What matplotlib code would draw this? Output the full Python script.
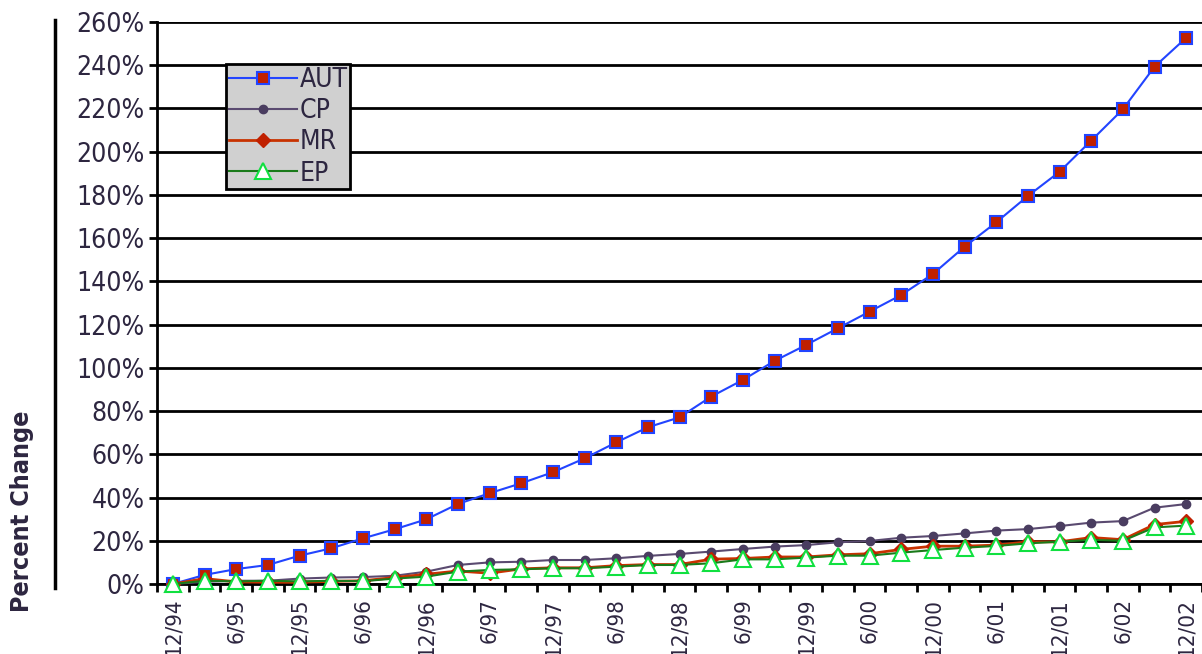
import numpy as np
import matplotlib
matplotlib.use('Agg')
import matplotlib.pyplot as plt
from matplotlib.lines import Line2D
from matplotlib.transforms import ScaledTranslation

# quarterly points 12/94 .. 12/02
quarters = ["12/94", "3/95", "6/95", "9/95", "12/95", "3/96", "6/96", "9/96",
            "12/96", "3/97", "6/97", "9/97", "12/97", "3/98", "6/98", "9/98",
            "12/98", "3/99", "6/99", "9/99", "12/99", "3/00", "6/00", "9/00",
            "12/00", "3/01", "6/01", "9/01", "12/01", "3/02", "6/02", "9/02", "12/02"]

AUT = [0, 4.2, 6.9, 8.8, 13.1, 16.5, 21.1, 25.3, 29.9, 37.0, 42.0, 46.6, 51.7,
       58.1, 65.5, 72.5, 77.1, 86.7, 94.4, 103.2, 110.6, 118.3, 126.0, 133.7,
       143.4, 156.0, 167.3, 179.5, 190.7, 205.1, 219.6, 239.3, 252.7]
CP = [0, 1.0, 1.5, 1.5, 2.5, 3.0, 3.2, 3.8, 5.7, 8.8, 10.0, 10.3, 11.1, 11.1,
      11.9, 13.0, 13.9, 15.0, 16.2, 17.3, 18.0, 19.3, 19.9, 21.4, 22.2, 23.4,
      24.7, 25.4, 26.8, 28.4, 29.1, 35.3, 37.0]
MR = [0, 2.5, 1.0, 0.8, 0.8, 1.2, 1.5, 3.0, 4.5, 6.0, 5.0, 7.0, 7.5, 7.5, 8.5,
      9.0, 9.0, 11.5, 11.8, 12.5, 12.5, 13.5, 14.0, 16.0, 17.5, 17.5, 18.0,
      19.5, 19.5, 21.5, 20.5, 27.5, 29.0]
EP = [0, 1.5, 1.2, 1.5, 1.2, 1.5, 1.3, 2.5, 3.4, 5.7, 6.5, 6.8, 7.3, 7.3, 8.0,
      8.8, 8.8, 9.6, 11.4, 11.4, 12.2, 13.1, 13.1, 14.5, 15.7, 16.8, 17.6,
      18.8, 19.6, 20.4, 20.0, 26.2, 27.0]

yticks = np.arange(0, 261, 20)

plt.rcParams['font.family'] = ['DejaVu Sans']
plt.rcParams['font.stretch'] = 'condensed'
txt = '#2d2640'

fig = plt.figure(figsize=(12.02, 6.54), dpi=100)
ax = fig.add_axes([157/1202, 70/654, 1 - 157/1202, 562/654])

x = np.arange(len(quarters))
ax.plot(x, AUT, color='#2244ff', lw=1.5, marker='s', ms=8, mfc='#c02000',
        mec='#2244ff', mew=1.5, label='AUT', clip_on=False, zorder=3)
ax.plot(x, CP, color='#5a4a70', lw=1.5, marker='o', ms=6, mfc='#4a3d60',
        mec='#4a3d60', label='CP', clip_on=False, zorder=4)
ax.plot(x, MR, color='#c83200', lw=2, marker='D', ms=7, mfc='#c02000',
        mec='#c02000', label='MR', clip_on=False, zorder=5)
ax.plot(x, EP, color='#1a7a1a', lw=1.5, marker='^', ms=11, mfc='white',
        mec='#10e040', mew=1.5, label='EP', clip_on=False, zorder=6)

ax.set_xlim(-0.47, 32.31)
ax.set_ylim(0, 260)
ax.set_yticks(yticks)
ax.set_yticklabels(['%d%%' % v for v in yticks], fontsize=19, color=txt)
ax.yaxis.grid(True, color='black', lw=2)
ax.set_axisbelow(True)

ax.set_xticks(np.arange(-0.5, 33, 1))
ax.set_xticklabels([])
ax.set_xticks(x[::2], minor=True)
ax.set_xticklabels(quarters[::2], minor=True, rotation=90, fontsize=16,
                   color=txt, va='top', ha='center')
shift = ScaledTranslation(-6/100, 0, fig.dpi_scale_trans)
for lab in ax.get_xticklabels(minor=True):
    lab.set_transform(lab.get_transform() + shift)
ax.tick_params(axis='x', which='major', length=6, width=2, direction='out')
ax.tick_params(axis='x', which='minor', length=0, pad=10)
ax.tick_params(axis='y', length=6, width=2, direction='out', pad=3)

for s in ['top', 'right']:
    ax.spines[s].set_visible(False)
ax.spines['left'].set_linewidth(2)
ax.spines['bottom'].set_linewidth(2)

ax.set_ylabel('Percent Change', fontsize=18, fontweight='bold', color=txt)
ax.yaxis.set_label_coords(-0.118, 0.13)

fig.add_artist(Line2D([55/1202, 55/1202], [66/654, 634/654], color='black',
                      lw=2.5, transform=fig.transFigure))

leg = ax.legend(loc='upper left', bbox_to_anchor=(0.066, 0.925), fontsize=19,
                frameon=True, fancybox=False, borderpad=0.1, labelspacing=0.2,
                handlelength=2.6, handletextpad=0.08, borderaxespad=0)
leg.get_frame().set_facecolor('#d0d0d0')
leg.get_frame().set_edgecolor('black')
leg.get_frame().set_linewidth(2)
leg.get_frame().set_alpha(1)
for t in leg.get_texts():
    t.set_color(txt)

plt.savefig('out.png', dpi=100)
